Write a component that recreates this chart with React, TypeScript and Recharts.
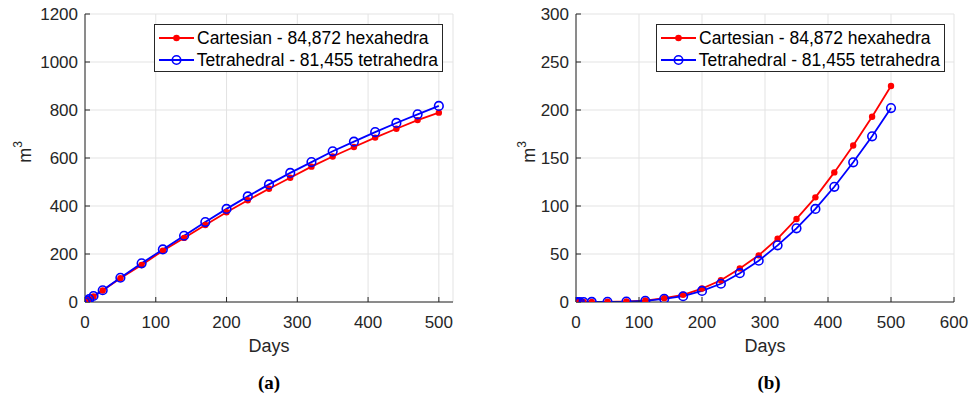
import React from 'react';
import { LineChart, Line, XAxis, YAxis, CartesianGrid, Legend, Label } from 'recharts';

const days = [0, 3, 6, 12, 25, 50, 80, 110, 140, 170, 200, 230, 260, 290, 320, 350, 380, 410, 440, 470, 500];
const cartesianA = [0, 5, 11, 23, 48, 99, 154, 214, 267, 321, 374, 424, 472, 518, 564, 606, 646, 685, 722, 758, 789];
const tetrahedralA = [0, 6, 12, 25, 49, 101, 161, 219, 276, 333, 388, 440, 490, 538, 583, 628, 668, 708, 746, 782, 817];
const cartesianB = [0, 0, 0, 0, 0.1, 0.2, 0.5, 1.5, 4, 7.5, 14, 22.6, 35, 48.6, 66, 86.5, 109, 135, 163, 193, 225];
const tetrahedralB = [0, 0, 0, 0, 0.1, 0.2, 0.4, 1.2, 3.3, 6, 11.5, 19, 30, 43, 59, 76.7, 97, 120, 145.5, 172.6, 202];

const seriesNames = ['Cartesian - 84,872 hexahedra', 'Tetrahedral - 81,455 tetrahedra'];
const ticksXA = [0, 100, 200, 300, 400, 500];
const ticksYA = [0, 200, 400, 600, 800, 1000, 1200];
const ticksXB = [0, 100, 200, 300, 400, 500, 600];
const ticksYB = [0, 50, 100, 150, 200, 250, 300];

const dataA = days.map((d, i) => ({ day: d, cart: cartesianA[i], tet: tetrahedralA[i] }));
const dataB = days.map((d, i) => ({ day: d, cart: cartesianB[i], tet: tetrahedralB[i] }));

const FONT = '"Liberation Sans", Arial, sans-serif';
const AX = '#262626';
const RED = '#ff0000';
const BLUE = '#0000ff';

const LegendBox = () => (
  <div
    style={{
      border: `1px solid ${AX}`,
      background: '#fff',
      fontFamily: FONT,
      fontSize: 17.5,
      color: '#000',
      padding: '2px 4px 2px 4px',
      boxSizing: 'border-box',
      width: 289,
      height: 48,
    }}
  >
    {seriesNames.map((name, i) => (
      <div key={name} style={{ display: 'flex', alignItems: 'center', height: 22, whiteSpace: 'nowrap' }}>
        <svg width={35} height={14} style={{ marginRight: 3 }}>
          <line x1={0} y1={7} x2={35} y2={7} stroke={i === 0 ? RED : BLUE} strokeWidth={2} />
          {i === 0 ? (
            <circle cx={17.5} cy={7} r={3.3} fill={RED} />
          ) : (
            <circle cx={17.5} cy={7} r={4.2} fill="none" stroke={BLUE} strokeWidth={1.6} />
          )}
        </svg>
        <span>{name}</span>
      </div>
    ))}
  </div>
);

const MLabel = (x: number) => (props: any) => {
  const cy = 152;
  return (
    <text
      x={x}
      y={cy}
      transform={`rotate(-90, ${x}, ${cy})`}
      textAnchor="middle"
      dominantBaseline="central"
      fontFamily={FONT}
      fontSize={18}
      fill={AX}
    >
      m<tspan dy={-7} fontSize={12}>3</tspan>
    </text>
  );
};

type PanelProps = {
  data: any[];
  width: number;
  yWidth: number;
  right: number;
  xDomain: [number, number];
  yDomain: [number, number];
  xTicks: number[];
  yTicks: number[];
  mx: number;
  legendLeft: number;
};

const tickStyle = { fontFamily: FONT, fontSize: 17, fill: AX };

const Panel = ({ data, width, yWidth, right, xDomain, yDomain, xTicks, yTicks, mx, legendLeft }: PanelProps) => (
  <LineChart width={width} height={397} data={data} margin={{ top: 14, right, left: 0, bottom: 0 }}>
    <CartesianGrid stroke="#e3e3e3" strokeWidth={1} />
    <XAxis
      dataKey="day"
      type="number"
      domain={xDomain}
      ticks={xTicks}
      tickSize={-5}
      tickMargin={19}
      height={95}
      axisLine={{ stroke: AX }}
      tickLine={{ stroke: AX }}
      tick={tickStyle}
      allowDataOverflow
    >
      <Label value="Days" position="insideTop" offset={37} style={{ fontFamily: FONT, fontSize: 18, fill: AX }} />
    </XAxis>
    <XAxis
      xAxisId="top"
      orientation="top"
      dataKey="day"
      type="number"
      domain={xDomain}
      ticks={xTicks}
      tickSize={-5}
      height={0}
      axisLine={{ stroke: AX }}
      tickLine={{ stroke: AX }}
      tick={false}
      allowDataOverflow
    />
    <YAxis
      type="number"
      domain={yDomain}
      ticks={yTicks}
      tickSize={-5}
      tickMargin={12}
      width={yWidth}
      axisLine={{ stroke: AX }}
      tickLine={{ stroke: AX }}
      tick={tickStyle}
      allowDataOverflow
    >
      <Label content={MLabel(mx)} />
    </YAxis>
    <YAxis
      yAxisId="right"
      orientation="right"
      type="number"
      domain={yDomain}
      ticks={yTicks}
      tickSize={-5}
      width={0}
      axisLine={{ stroke: AX }}
      tickLine={{ stroke: AX }}
      tick={false}
      allowDataOverflow
    />
    <Legend
      layout="horizontal"
      verticalAlign="middle"
      align="center"
      content={() => <LegendBox />}
      wrapperStyle={{ position: 'absolute', left: legendLeft, top: 24, width: 289 }}
    />
    <Line
      dataKey="cart"
      name={seriesNames[0]}
      stroke={RED}
      strokeWidth={1.8}
      isAnimationActive={false}
      dot={{ r: 3.2, fill: RED, stroke: RED, strokeWidth: 0 }}
    />
    <Line
      dataKey="tet"
      name={seriesNames[1]}
      stroke={BLUE}
      strokeWidth={1.8}
      isAnimationActive={false}
      dot={{ r: 4.3, fill: 'none', stroke: BLUE, strokeWidth: 1.6 }}
    />
  </LineChart>
);

const captionStyle: React.CSSProperties = {
  position: 'absolute',
  top: 372,
  width: 60,
  textAlign: 'center',
  fontFamily: '"Liberation Serif", "Times New Roman", serif',
  fontWeight: 'bold',
  fontSize: 19,
  color: '#000',
};

export default function App() {
  return (
    <div style={{ position: 'absolute', left: 0, top: 0, width: 971, height: 397, background: '#fff', overflow: 'hidden' }}>
      <div style={{ position: 'absolute', left: 0, top: 0 }}>
        <Panel
          data={dataA}
          width={480}
          yWidth={85}
          right={27}
          xDomain={[0, 520]}
          yDomain={[0, 1200]}
          xTicks={ticksXA}
          yTicks={ticksYA}
          mx={25}
          legendLeft={154}
        />
      </div>
      <div style={{ position: 'absolute', left: 480, top: 0 }}>
        <Panel
          data={dataB}
          width={491}
          yWidth={96}
          right={17}
          xDomain={[0, 600]}
          yDomain={[0, 300]}
          xTicks={ticksXB}
          yTicks={ticksYB}
          mx={49}
          legendLeft={176}
        />
      </div>
      <div style={{ ...captionStyle, left: 239 }}>(a)</div>
      <div style={{ ...captionStyle, left: 739 }}>(b)</div>
    </div>
  );
}
